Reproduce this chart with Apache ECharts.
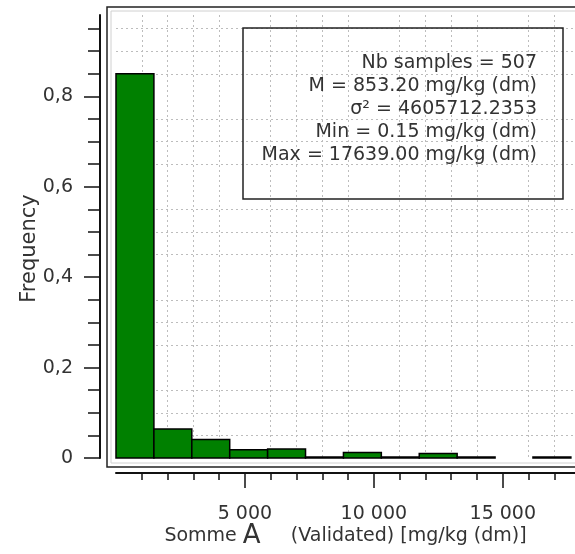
<!DOCTYPE html>
<html>
<head>
<meta charset="utf-8">
<script src="https://cdn.jsdelivr.net/npm/echarts@6/dist/echarts.min.js"></script>
<style>html,body{margin:0;padding:0;background:#fff}#c{width:575px;height:554px}</style>
</head>
<body>
<div id="c"></div>
<script>
// Histogram bins (mg/kg) and frequencies
var binEdges = [0, 1470, 2940, 4410, 5880, 7350, 8820, 10290, 11760, 13230, 14700, 16170, 17640];
var frequencies = [0.850, 0.064, 0.041, 0.018, 0.020, 0.002, 0.012, 0.002, 0.010, 0.002, 0, 0.002];

var xMajorTicks = [5000, 10000, 15000];
var xTickLabels = ['5 000', '10 000', '15 000'];
var xMinorTicks = [1000, 2000, 3000, 4000, 6000, 7000, 8000, 9000, 11000, 12000, 13000, 14000, 16000, 17000];
var yMajorTicks = [0, 0.2, 0.4, 0.6, 0.8];
var yTickLabels = ['0', '0,2', '0,4', '0,6', '0,8'];
var yMinorTicks = [0.05, 0.1, 0.15, 0.25, 0.3, 0.35, 0.45, 0.5, 0.55, 0.65, 0.7, 0.75, 0.85, 0.9, 0.95];
var statsLines = ['Nb samples = 507', 'M = 853.20 mg/kg (dm)', 'σ² = 4605712.2353', 'Min = 0.15 mg/kg (dm)', 'Max = 17639.00 mg/kg (dm)'];

var FONT = 'DejaVu Sans';
var TXT = '#333';
var chart = echarts.init(document.getElementById('c'), null, {renderer: 'canvas'});

var data = [];
for (var i = 0; i < frequencies.length; i++) {
  data.push([binEdges[i], binEdges[i + 1], frequencies[i]]);
}

var gridLine = {show: true, lineStyle: {color: '#bdbdbd', type: [2, 3], width: 1}};

var graphics = [
  {type: 'rect', shape: {x: 107, y: 7, width: 520, height: 460}, style: {fill: null, stroke: '#222', lineWidth: 1.5}, z: 100},
  {type: 'rect', shape: {x: 111, y: 11, width: 520, height: 452}, style: {fill: null, stroke: '#d0d0d0', lineWidth: 1}, z: 100},
  {type: 'rect', shape: {x: 243, y: 28, width: 320, height: 171}, style: {fill: null, stroke: '#222', lineWidth: 1.5}, z: 100}
];
for (var k = 0; k < statsLines.length; k++) {
  graphics.push({type: 'text', x: 537, y: 63 + k * 23, z: 100,
    style: {text: statsLines[k], fill: TXT, font: '19px "' + FONT + '"', textAlign: 'right', textVerticalAlign: 'middle'}});
}

chart.setOption({
  animation: false,
  backgroundColor: '#fff',
  grid: {left: 116, right: 0, top: 15, bottom: 96, containLabel: false, outerBoundsMode: 'none'},
  xAxis: [
    {type: 'value', min: 0, max: 17800, interval: 1000, position: 'bottom', offset: 15,
     axisLine: {show: true, onZero: false, lineStyle: {color: '#111', width: 2}},
     axisTick: {show: true, length: 7, customValues: xMinorTicks, lineStyle: {color: '#111', width: 1.5}},
     axisLabel: {show: false},
     splitLine: gridLine},
    {type: 'value', min: 0, max: 17800, position: 'bottom', offset: 15,
     axisLine: {show: false, onZero: false},
     axisTick: {show: true, length: 15, customValues: xMajorTicks, lineStyle: {color: '#111', width: 1.5}},
     axisLabel: {show: true, margin: 32, customValues: xMajorTicks, color: TXT, fontFamily: FONT, fontSize: 19,
       formatter: function (v) { var j = xMajorTicks.indexOf(v); return j >= 0 ? xTickLabels[j] : ''; }},
     splitLine: {show: false},
     name: '{a|Somme }{b|A}{a|     (Validated) [mg/kg (dm)]}',
     nameLocation: 'middle', nameGap: 50, nameMoveOverlap: false,
     nameTextStyle: {rich: {a: {fontFamily: FONT, fontSize: 19, color: TXT}, b: {fontFamily: FONT, fontSize: 26, color: TXT}}}}
  ],
  yAxis: [
    {type: 'value', min: 0, max: 0.98, interval: 0.05, position: 'left', offset: 16,
     axisLine: {show: true, onZero: false, lineStyle: {color: '#111', width: 2}},
     axisTick: {show: true, length: 12, customValues: yMinorTicks, lineStyle: {color: '#111', width: 1.5}},
     axisLabel: {show: false},
     splitLine: gridLine},
    {type: 'value', min: 0, max: 0.98, position: 'left', offset: 16,
     axisLine: {show: false, onZero: false},
     axisTick: {show: true, length: 16, customValues: yMajorTicks, lineStyle: {color: '#111', width: 1.5}},
     axisLabel: {show: true, margin: 27, customValues: yMajorTicks, color: TXT, fontFamily: FONT, fontSize: 19,
       formatter: function (v) { for (var j = 0; j < yMajorTicks.length; j++) { if (Math.abs(yMajorTicks[j] - v) < 1e-9) return yTickLabels[j]; } return ''; }},
     splitLine: {show: false},
     name: 'Frequency', nameLocation: 'middle', nameGap: 60, nameMoveOverlap: false,
     nameTextStyle: {fontFamily: FONT, fontSize: 21, color: TXT, padding: [0, 24, 0, 0]}}
  ],
  series: [{
    type: 'custom', xAxisIndex: 0, yAxisIndex: 0, data: data,
    encode: {x: [0, 1], y: 2},
    renderItem: function (params, api) {
      var x0 = api.value(0), x1 = api.value(1), y = api.value(2);
      if (!y) return null;
      var p0 = api.coord([x0, y]);
      var p1 = api.coord([x1, 0]);
      return {type: 'rect', shape: {x: p0[0], y: p0[1], width: p1[0] - p0[0], height: p1[1] - p0[1]},
        style: {fill: '#008000', stroke: '#000', lineWidth: 1.5}};
    }
  }],
  graphic: graphics
});
</script>
</body>
</html>
